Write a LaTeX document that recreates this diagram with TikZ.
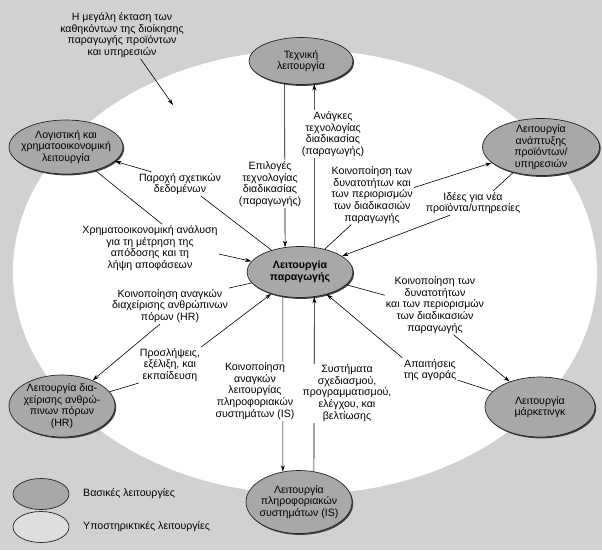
\documentclass[tikz,border=0pt]{standalone}
\usepackage{fontspec}
\setmainfont{Liberation Sans}
\usepackage{tikz}
\usetikzlibrary{positioning,arrows.meta,shapes.geometric,shadows}
\tikzset{
  pmfun/.style={ellipse, draw=black!85, line width=0.7pt, fill=\pmFunFill, inner sep=0pt,
                drop shadow={shadow xshift=1.2pt, shadow yshift=-1.4pt, fill=black!75, opacity=1}},
  pmkey/.style={ellipse, draw=black!85, line width=0.7pt, fill=\pmFunFill, inner sep=0pt,
                minimum width=56pt, minimum height=31pt},
  pmtxt/.style={align=center, font=\pmFont, inner sep=0pt},
  pmlab/.style={align=center, font=\pmFont, fill=white, inner sep=1pt},
  pmrel/.style={draw=black, line width=0.6pt, -{Stealth[length=6.5pt,width=4pt]}},
}
\newcommand{\pmFunFill}{black!34}
\newcommand{\pmBack}{black!18}
\newcommand{\pmFont}{\fontsize{10.6}{11.7}\selectfont}

\begin{document}
\begin{tikzpicture}[x=1pt,y=-1pt]
  \useasboundingbox (0,0) rectangle (602,550);
  \fill[\pmBack] (0,0) rectangle (602,550);
  \fill[white] (305,272) ellipse [x radius=292pt, y radius=222pt];

  \node[pmfun, minimum width=104pt, minimum height=47pt, label={[pmtxt]center:Τεχνική\\λειτουργία}] (tech) at (301,61) {};
  \node[pmfun, minimum width=114pt, minimum height=54pt, label={[pmtxt]center:Λογιστική και\\χρηματοοικονομική\\λειτουργία}] (acc) at (66,147) {};
  \node[pmfun, minimum width=117pt, minimum height=57pt, label={[pmtxt]center:Λειτουργία\\ανάπτυξης\\προϊόντων/\\υπηρεσιών}] (dev) at (541,147) {};
  \node[pmfun, minimum width=106pt, minimum height=51pt, label={[pmtxt,font=\pmFont\bfseries]center:Λειτουργία\\παραγωγής}] (prod) at (300,272) {};
  \node[pmfun, minimum width=110pt, minimum height=60pt, label={[pmtxt]center:Λειτουργία\\μάρκετινγκ}] (mkt) at (540,407) {};
  \node[pmfun, minimum width=106pt, minimum height=62pt, label={[pmtxt]center:Λειτουργία δια-\\χείρισης ανθρώ-\\πινων πόρων\\(HR)}] (hr) at (62,406) {};
  \node[pmfun, minimum width=106pt, minimum height=63pt, label={[pmtxt]center:Λειτουργία\\πληροφοριακών\\συστημάτων (IS)}] (is) at (299,502) {};

  \draw[pmrel] (tech.234) -- (prod.121);
  \draw[pmrel] (prod.60) -- (tech.300);
  \draw[pmrel] (prod.235) -- (is.118);
  \draw[pmrel] (is.64) -- (prod.300);

  \node[pmlab] (lchoice) at (270,184) {Επιλογές\\τεχνολογίας\\διαδικασίας\\(παραγωγής)};
  \node[pmlab] (lneeds) at (333,134) {Ανάγκες\\τεχνολογίας\\διαδικασίας\\(παραγωγής)};
  \node[pmlab] (ldata) at (180,184) {Παροχή σχετικών\\δεδομένων};
  \node[pmlab] (lfin) at (150,248) {Χρηματοοικονομική ανάλυση\\για τη μέτρηση της\\απόδοσης και τη\\λήψη αποφάσεων};
  \node[pmlab] (lhrneed) at (170,306) {Κοινοποίηση αναγκών\\διαχείρισης ανθρώπινων\\πόρων (HR)};
  \node[pmlab] (lhire) at (170,365) {Προσλήψεις,\\εξέλιξη, και\\εκπαίδευση};
  \node[pmlab] (lisneed) at (255,391) {Κοινοποίηση\\αναγκών\\λειτουργίας\\πληροφοριακών\\συστημάτων (IS)};
  \node[pmlab] (lsys) at (347,393) {Συστήματα\\σχεδιασμού,\\προγραμματισμού,\\ελέγχου, και\\βελτίωσης};
  \node[pmlab] (lcapdev) at (372,195) {Κοινοποίηση των\\δυνατοτήτων και\\των περιορισμών\\των διαδικασιών\\παραγωγής};
  \node[pmlab] (lideas) at (473,203) {Ιδέες για νέα\\προϊόντα/υπηρεσίες};
  \node[pmlab] (lcapmkt) at (435,305) {Κοινοποίηση των\\δυνατοτήτων\\και των περιορισμών\\των διαδικασιών\\παραγωγής};
  \node[pmlab] (lmarket) at (430,370) {Απαιτήσεις\\της αγοράς};
  \node[pmlab, fill=none] (lscope) at (122,35) {Η μεγάλη έκταση των\\καθηκόντων της διοίκησης\\παραγωγής προϊόντων\\και υπηρεσιών};
  \coordinate (scopetip) at (173,105);

  \draw[pmrel] (prod) -- (ldata.-30) (ldata.157) -- (acc);
  \draw[pmrel] (acc) -- (lfin.63) (lfin.-5) -- (prod);
  \draw[pmrel] (prod) -- (lhrneed.north east) (lhrneed.241) -- (hr);
  \draw[pmrel] (hr) -- (lhire.south west) (lhire.north east) -- (prod);
  \draw[pmrel] (prod) -- (lcapdev.235) (lcapdev.10) -- (dev);
  \draw[pmrel] (dev) -- (lideas.31) (lideas.208) -- (prod);
  \draw[pmrel] (prod) -- (lcapmkt.169) (lcapmkt.-58) -- (mkt);
  \draw[pmrel] (mkt) -- (lmarket.-20) (lmarket.north west) -- (prod);
  \draw[pmrel] (lscope.-52) -- (scopetip);

  \node[pmkey] (keybasic) at (41,494) {};
  \node[pmkey, fill=black!13] (keysupp) at (41,527) {};
  \node[pmtxt, anchor=west] (keybasictxt) at (83,494) {Βασικές λειτουργίες};
  \node[pmtxt, anchor=west] (keysupptxt) at (83,527) {Υποστηρικτικές λειτουργίες};
\end{tikzpicture}
\end{document}
